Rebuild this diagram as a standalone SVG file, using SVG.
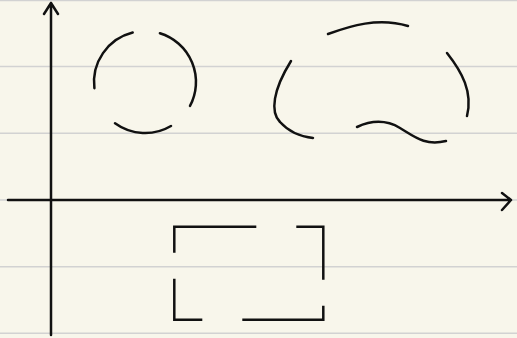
<svg xmlns="http://www.w3.org/2000/svg" width="517" height="338" viewBox="0 0 517 338">
  <style>
    .grid { stroke: #d2d2d2; stroke-width: 1.5; fill: none; }
    .ink { stroke: #111; stroke-width: 2.5; fill: none; stroke-linecap: round; stroke-linejoin: round; }
    .box { stroke: #111; stroke-width: 2.5; fill: none; stroke-linecap: butt; stroke-linejoin: miter; }
  </style>
  <rect x="0" y="0" width="517" height="338" fill="#f8f6eb"/>
  <g id="grid">
    <line class="grid" x1="0" y1="0.5" x2="517" y2="0.5"/>
    <line class="grid" x1="0" y1="66.5" x2="517" y2="66.5"/>
    <line class="grid" x1="0" y1="133.3" x2="517" y2="133.3"/>
    <line class="grid" x1="0" y1="200" x2="517" y2="200"/>
    <line class="grid" x1="0" y1="266.7" x2="517" y2="266.7"/>
    <line class="grid" x1="0" y1="333.3" x2="517" y2="333.3"/>
  </g>
  <g id="connectors">
    <path class="ink" d="M51,335 L51,3 M44,14 L51,3 L58,14"/>
    <path class="ink" d="M8,200 L511,200 M502,193 L511,200 L502,210"/>
  </g>
  <g id="circle">
    <path class="ink" d="M171,126 A51,51 0 0 1 115,123.3"/>
    <path class="ink" d="M94.4,88.2 A51,51 0 0 1 132.7,32.5"/>
    <path class="ink" d="M159.9,33.2 A51,51 0 0 1 190,105.9"/>
  </g>
  <g id="blob">
    <path class="ink" d="M328,34 C350,26 378,17 408,26"/>
    <path class="ink" d="M447,53 C462,72 473,92 467,116"/>
    <path class="ink" d="M291,61 C273,90 270,112 280,122 C290,133 303,137 313,138"/>
    <path class="ink" d="M357,127 C370,121 385,119 400,128 C415,137 425,146 446,141"/>
  </g>
  <g id="rectangle">
    <rect class="box" x="174.3" y="226.7" width="149" height="93" stroke-dasharray="82 40 80 26 95 40 69 26 26"/>
  </g>
</svg>
